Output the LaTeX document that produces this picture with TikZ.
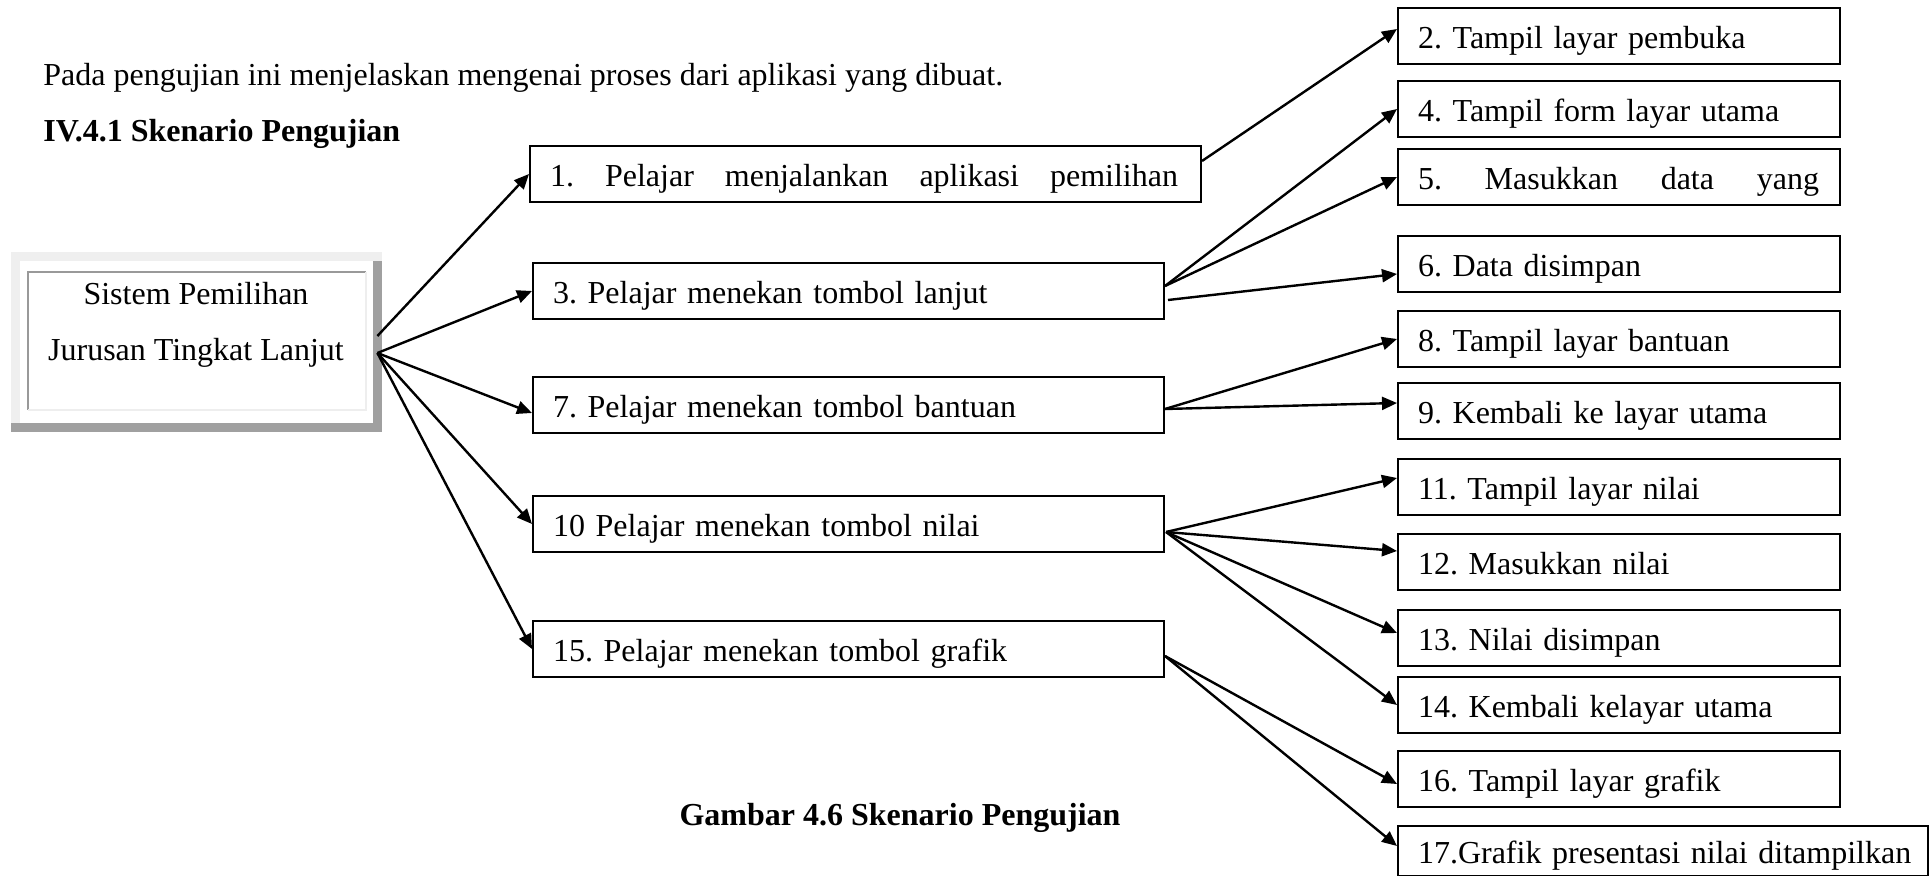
\documentclass[tikz,border=0pt]{standalone}
\usepackage{fontspec}
\setmainfont{Liberation Serif}
\usetikzlibrary{arrows.meta,calc}
\definecolor{shadowgray}{HTML}{A0A0A0}
\definecolor{framegray}{HTML}{EFEFEF}
\definecolor{innergray}{HTML}{999999}
\definecolor{innerlight}{HTML}{EEEEEE}
\begin{document}
\begin{tikzpicture}[x=0.5pt,y=-0.5pt,
  every node/.style={font=\fontsize{16pt}{19pt}\selectfont\frenchspacing},
  box/.style={draw=black, line width=1pt, anchor=north west, minimum height=28pt,
    inner xsep=10pt, inner ysep=0pt, align=left, text height=14pt, text depth=1.5pt},
  arr/.style={line width=1.2pt, -{Triangle[length=7.5pt,width=6.5pt]}},
  txt/.style={inner sep=0pt},
  boldtxt/.style={inner sep=0pt, font=\fontsize{16pt}{19pt}\selectfont\bfseries}]
\fill[white] (0,0) rectangle (1932,876);
\useasboundingbox (0,0) rectangle (1932,876);

% intro texts
\node[txt, anchor=base west] (intro) at (43,86) {Pada pengujian ini menjelaskan mengenai proses dari aplikasi yang dibuat.};
\node[boldtxt, anchor=base west] (heading) at (43,142) {IV.4.1 Skenario Pengujian};
\node[boldtxt, anchor=base] (caption) at (900,825) {Gambar 4.6 Skenario Pengujian};

% left 3D box
\fill[framegray] (11,252) rectangle (382,432);
\fill[shadowgray] (373,261) rectangle (382,432);
\fill[shadowgray] (11,423) rectangle (382,432);
\node[fill=white, minimum width=176.5pt, minimum height=81pt, inner sep=0pt] (L) at (196.5,342) {};
\draw[innergray, line width=1pt] (28,410) -- (28,272) -- (366,272);
\draw[innerlight, line width=1pt] (366,272) -- (366,410) -- (28,410);
\node[txt, anchor=base] (L1) at (196,305) {Sistem Pemilihan};
\node[txt, anchor=base] (L2) at (196,361) {Jurusan Tingkat Lanjut};

% middle boxes
\node[box, text width=315.5pt] (m1) at (529,145) {\makebox[314pt]{1.\hfill Pelajar\hfill menjalankan\hfill aplikasi\hfill pemilihan}};
\node[box, text width=295.5pt] (m3) at (532,262) {3. Pelajar menekan tombol lanjut};
\node[box, text width=295.5pt] (m7) at (532,376) {7. Pelajar menekan tombol bantuan};
\node[box, text width=295.5pt] (m10) at (532,495) {10 Pelajar menekan tombol nilai};
\node[box, text width=295.5pt] (m15) at (532,620) {15. Pelajar menekan tombol grafik};

% right boxes
\node[box, text width=201pt] (r2) at (1397,7) {2. Tampil layar pembuka};
\node[box, text width=201pt] (r4) at (1397,80) {4. Tampil form layar utama};
\node[box, text width=201pt] (r5) at (1397,148) {\makebox[200.5pt]{5.\hfill Masukkan\hfill data\hfill yang}};
\node[box, text width=201pt] (r6) at (1397,235) {6. Data disimpan};
\node[box, text width=201pt] (r8) at (1397,310) {8. Tampil layar bantuan};
\node[box, text width=201pt] (r9) at (1397,382) {9. Kembali ke layar utama};
\node[box, text width=201pt] (r11) at (1397,458) {11. Tampil layar nilai};
\node[box, text width=201pt] (r12) at (1397,533) {12. Masukkan nilai};
\node[box, text width=201pt] (r13) at (1397,609) {13. Nilai disimpan};
\node[box, text width=201pt] (r14) at (1397,676) {14. Kembali kelayar utama};
\node[box, text width=201pt] (r16) at (1397,750) {16. Tampil layar grafik};
\node[box, text width=245pt, minimum height=25pt] (r17) at (1397,825) {\mbox{17.Grafik presentasi nilai ditampilkan}};

% arrows from left box
\draw[arr] ($(L.east)+(4,-6)$) -- (m1.west);
\draw[arr] ($(L.east)+(4,11)$) -- (m3.west);
\draw[arr] ($(L.east)+(4,11)$) -- ($(m7.west)+(0,8)$);
\draw[arr] ($(L.east)+(4,11)$) -- (m10.west);
\draw[arr] ($(L.east)+(4,11)$) -- (m15.west);

% arrows to right boxes
\draw[arr] ($(m1.east)+(0,-13)$) -- ($(r2.west)+(0,-7)$);
\draw[arr] ($(m3.east)+(0,-5)$) -- (r4.west);
\draw[arr] ($(m3.east)+(0,-5)$) -- (r5.west);
\draw[arr] ($(m3.east)+(3,9)$) -- ($(r6.west)+(0,10)$);
\draw[arr] ($(m7.east)+(0,4)$) -- (r8.west);
\draw[arr] ($(m7.east)+(0,4)$) -- ($(r9.west)+(0,-8)$);
\draw[arr] ($(m10.east)+(1,8)$) -- ($(r11.west)+(0,-9)$);
\draw[arr] ($(m10.east)+(1,8)$) -- ($(r12.west)+(0,-11)$);
\draw[arr] ($(m10.east)+(1,8)$) -- ($(r13.west)+(0,-5)$);
\draw[arr] ($(m10.east)+(1,8)$) -- (r14.west);
\draw[arr] ($(m15.east)+(0,7)$) -- ($(r16.west)+(0,5)$);
\draw[arr] ($(m15.east)+(0,7)$) -- ($(r17.west)+(0,-5)$);
\end{tikzpicture}
\end{document}
